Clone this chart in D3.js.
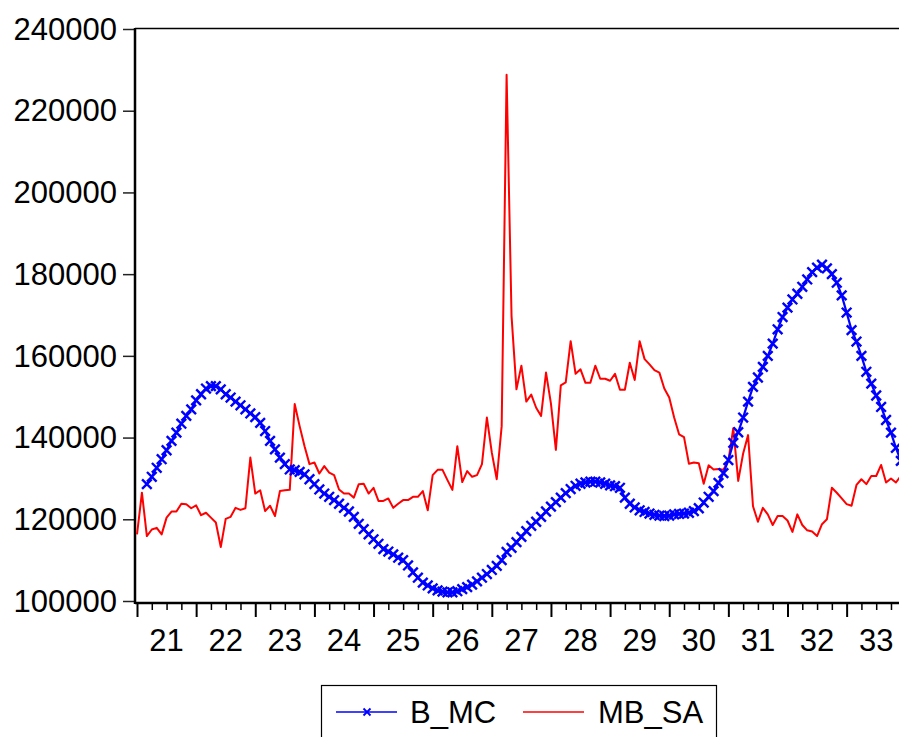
<!DOCTYPE html>
<html>
<head>
<meta charset="utf-8">
<script src="https://cdn.jsdelivr.net/npm/d3@7"></script>
<style>
  body { margin: 0; background: #fff; }
  text { font-family: "Liberation Sans", Arial, sans-serif; }
</style>
</head>
<body>
<div id="chart"></div>
<script>
// Data (monthly, 2021M01 .. 2033M12)___________________
const yearLabels = ['21', '22', '23', '24', '25', '26', '27', '28', '29', '30', '31', '32', '33'];
const yTicks = [100000, 120000, 140000, 160000, 180000, 200000, 220000, 240000];
const seriesNames = ['B_MC', 'MB_SA'];

const mbSa = [
    116300, 126500, 115900, 117500, 117900, 116300, 120400, 121900, 121900, 123800, 123700, 122700,
    123400, 121000, 121600, 120400, 119200, 113200, 120100, 120600, 122800, 122300, 122700, 135100,
    126300, 127100, 122000, 123300, 120800, 126900, 127100, 127200, 148200, 142800, 137900, 133500,
    133900, 131200, 133000, 131400, 130800, 127300, 126300, 126300, 125300, 128600, 128700, 126300,
    127700, 124500, 124500, 125100, 122800, 123800, 124700, 124700, 125500, 125500, 126900, 122200,
    130800, 132100, 132100, 129600, 127200, 137900, 129100, 131800, 130400, 130800, 133500, 144900,
    136300, 129800, 142800, 228800, 169800, 151800, 157600, 148800, 150500, 147300, 145300, 155900,
    148300, 137000, 152800, 153500, 163600, 155600, 156700, 153400, 153400, 157600, 154400, 154400,
    153900, 155600, 151700, 151700, 158300, 154100, 163600, 159200, 157900, 156500, 155900, 152000,
    149800, 144900, 140800, 140100, 133600, 133900, 133700, 128700, 133200, 132200, 132300, 132100,
    134300, 142300, 129400, 136100, 140600, 123200, 119400, 122800, 121200, 118600, 120800, 120800,
    119700, 116900, 121200, 118600, 117300, 117000, 115900, 118800, 120000, 127700, 126500, 125100,
    123700, 123300, 128400, 129800, 128600, 130600, 130600, 133300, 129000, 130000, 129000, 130600
];

const bMc = [
    null, null, 128600, 130400, 132600, 134700, 136900, 139200, 141200, 143400, 145300, 146900,
    149100, 150600, 152000, 152600, 152600, 151800, 150600, 149800, 148800, 147900, 146900, 145900,
    145000, 143600, 141600, 139200, 137100, 135100, 133500, 132200, 132000, 131600, 131000, 129800,
    128600, 127300, 126300, 125500, 124700, 123800, 122800, 121900, 120600, 118900, 117600, 116300,
    115100, 114000, 112700, 112100, 111400, 110600, 110000, 108700, 107000, 105700, 104500, 103800,
    103100, 102600, 102300, 102100, 102100, 102400, 102900, 103400, 104000, 104800, 105700, 106600,
    107600, 108600, 110000, 112000, 113000, 114400, 115700, 117100, 118400, 119400, 120600, 121900,
    123100, 124200, 125300, 126400, 127400, 128200, 128700, 129000, 129200, 129200, 129000, 128700,
    128300, 128100, 127700, 125300, 123800, 122900, 122200, 121800, 121400, 121100, 120900, 120800,
    120900, 121200, 121300, 121400, 121600, 122000, 122700, 124100, 125500, 126900, 128900, 131300,
    134500, 138700, 141300, 144900, 148800, 152400, 154700, 157300, 160000, 163000, 166500, 169500,
    171800, 173800, 175200, 176900, 178700, 180500, 181600, 182300, 181400, 180000, 177900, 174800,
    170600, 166300, 163500, 160000, 156100, 153200, 150300, 147500, 144300, 141200, 137500, 134300
];

// Layout___________________________________________
const width = 899;
const height = 737;
const plotLeft = 135;
const plotTop = 29;
const plotBottom = 603;
const fontSize = 31;
const colors = ['#0000ff', '#ff0000'];

const svg = d3.select('#chart')
    .append('svg')
    .attr('width', width)
    .attr('height', height)
    .style('display', 'block');

// Scales___________________________________________
const nObs = mbSa.length;
const xScale = d3.scaleLinear()
    .domain([0, nObs - 1])
    .range([137, 137 + (nObs - 1) * 4.928]);
const yScale = d3.scaleLinear()
    .domain([100000, 240000])
    .range([601, 29]);

// Frame
svg.append('line')
    .attr('x1', plotLeft).attr('x2', width + 5)
    .attr('y1', plotTop - 0.5).attr('y2', plotTop - 0.5)
    .attr('stroke', '#000').attr('stroke-width', 1.5);

// Y axis___________________________________________
const yAxis = d3.axisLeft(yScale)
    .tickValues(yTicks)
    .tickFormat(d3.format('d'))
    .tickSize(12)
    .tickPadding(6);

const gy = svg.append('g')
    .attr('transform', `translate(${plotLeft},0)`)
    .call(yAxis);
gy.select('.domain').remove();
gy.selectAll('.tick line').attr('stroke', '#222').attr('stroke-width', 1.5);
gy.selectAll('.tick text')
    .attr('fill', '#000')
    .style('font-size', fontSize + 'px')
    .attr('dy', '0.33em');

// X axis (major ticks at year start, minor ticks each quarter)
const majorTicks = d3.range(0, nObs + 1, 12);
const minorTicks = d3.range(0, nObs + 1, 3).filter(d => d % 12 !== 0);

const xMajor = d3.axisBottom(xScale).tickValues(majorTicks).tickFormat('').tickSize(14);
const xMinor = d3.axisBottom(xScale).tickValues(minorTicks).tickFormat('').tickSize(7);

const gxMinor = svg.append('g')
    .attr('transform', `translate(0,${plotBottom})`)
    .call(xMinor);
gxMinor.select('.domain').remove();
gxMinor.selectAll('.tick line').attr('stroke', '#000').attr('stroke-width', 1.5);

const gxMajor = svg.append('g')
    .attr('transform', `translate(0,${plotBottom})`)
    .call(xMajor);
gxMajor.select('.domain').remove();
gxMajor.selectAll('.tick line').attr('stroke', '#000').attr('stroke-width', 2);

svg.append('g')
    .selectAll('text')
    .data(yearLabels)
    .enter()
    .append('text')
    .attr('x', (d, i) => xScale(i * 12 + 6))
    .attr('y', 651)
    .attr('text-anchor', 'middle')
    .style('font-size', fontSize + 'px')
    .text(d => d);

// Axis lines
svg.append('line')
    .attr('x1', plotLeft).attr('x2', width + 5)
    .attr('y1', plotBottom).attr('y2', plotBottom)
    .attr('stroke', '#000').attr('stroke-width', 2.5);
svg.append('line')
    .attr('x1', plotLeft).attr('x2', plotLeft)
    .attr('y1', plotTop - 1).attr('y2', plotBottom + 1)
    .attr('stroke', '#000').attr('stroke-width', 2.5);

// Series___________________________________________
const line = d3.line()
    .defined(d => d !== null)
    .x((d, i) => xScale(i))
    .y(d => yScale(d));

svg.append('path')
    .datum(mbSa)
    .attr('fill', 'none')
    .attr('stroke', colors[1])
    .attr('stroke-width', 2)
    .attr('stroke-linejoin', 'round')
    .attr('d', line);

svg.append('path')
    .datum(bMc)
    .attr('fill', 'none')
    .attr('stroke', colors[0])
    .attr('stroke-width', 2.2)
    .attr('d', line);

const cross = r => `M${-r},${-r}L${r},${r}M${-r},${r}L${r},${-r}`;

svg.append('g')
    .selectAll('path')
    .data(bMc.map((v, i) => [i, v]).filter(d => d[1] !== null))
    .enter()
    .append('path')
    .attr('transform', d => `translate(${xScale(d[0])},${yScale(d[1])})`)
    .attr('d', cross(4.8))
    .attr('stroke', colors[0])
    .attr('stroke-width', 2.4)
    .attr('fill', 'none');

// Legend___________________________________________
const legend = svg.append('g').attr('class', 'legend');

legend.append('rect')
    .attr('x', 321.5).attr('y', 685.5)
    .attr('width', 395).attr('height', 70)
    .attr('fill', '#fff')
    .attr('stroke', '#000')
    .attr('stroke-width', 1.2);

legend.append('line')
    .attr('x1', 336).attr('x2', 397).attr('y1', 712).attr('y2', 712)
    .attr('stroke', colors[0]).attr('stroke-width', 1.5);
legend.append('path')
    .attr('transform', 'translate(367,712)')
    .attr('d', cross(3.5))
    .attr('stroke', colors[0]).attr('stroke-width', 1.8);
legend.append('text')
    .attr('x', 410).attr('y', 723)
    .style('font-size', fontSize + 'px')
    .text(seriesNames[0]);

legend.append('line')
    .attr('x1', 523).attr('x2', 584).attr('y1', 712).attr('y2', 712)
    .attr('stroke', colors[1]).attr('stroke-width', 1.5);
legend.append('text')
    .attr('x', 598).attr('y', 723)
    .style('font-size', fontSize + 'px')
    .text(seriesNames[1]);
</script>
</body>
</html>
